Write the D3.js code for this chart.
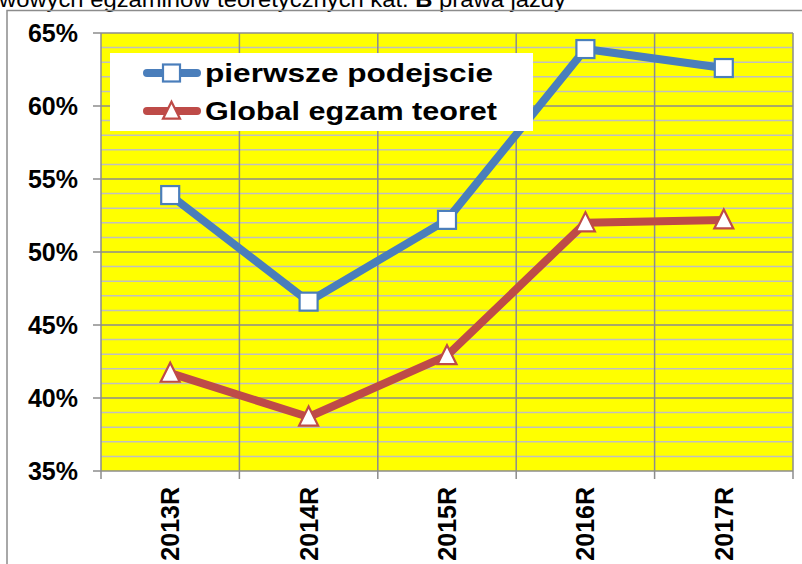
<!DOCTYPE html>
<html>
<head>
<meta charset="utf-8">
<script src="https://cdn.jsdelivr.net/npm/d3@7"></script>
<style>
  body { margin: 0; background: #fff; }
  svg { display: block; font-family: "Liberation Sans", Arial, sans-serif; }
</style>
</head>
<body>
<svg width="802" height="564"></svg>
<script>
// dane
const years = ['2013R', '2014R', '2015R', '2016R', '2017R'];
const pierwsze = [0.539, 0.466, 0.522, 0.639, 0.626];
const global = [0.417, 0.387, 0.429, 0.520, 0.522];
const yTicks = [0.35, 0.40, 0.45, 0.50, 0.55, 0.60, 0.65];
const seriesNames = ['pierwsze podejscie', 'Global egzam teoret'];

const svg = d3.select('svg');
const blue = '#4a7ebb';
const red = '#be4b48';

const x = d3.scaleBand().domain(years).range([101, 793]);
const y = d3.scaleLinear().domain([0.35, 0.65]).range([471, 33]);

// tytul (ucięty u gory)
const title = svg.append('text')
    .attr('x', -1)
    .attr('y', 7)
    .attr('font-size', 22)
    .attr('fill', '#000')
    .attr('textLength', 567)
    .attr('lengthAdjust', 'spacingAndGlyphs');
title.append('tspan').text('wowych egzaminów teoretycznych kat. ');
title.append('tspan').attr('font-weight', 'bold').text('B');
title.append('tspan').text(' prawa jazdy');

// ramka wykresu
svg.append('path')
    .attr('d', 'M7,564 V10.5 H802')
    .attr('fill', 'none')
    .attr('stroke', '#8c8c8c')
    .attr('stroke-width', 1.5);

// tlo
svg.append('rect')
    .attr('x', 101).attr('y', 33)
    .attr('width', 692).attr('height', 438)
    .attr('fill', '#ffff00');

// linie pomocnicze
const minor = d3.range(36, 65).filter(d => d % 5 !== 0).map(d => d / 100);
svg.append('g').selectAll('line')
    .data(minor)
    .enter()
    .append('line')
    .attr('x1', 101).attr('x2', 793)
    .attr('y1', d => y(d)).attr('y2', d => y(d))
    .attr('stroke', '#c0c0c0')
    .attr('stroke-width', 1.5);

svg.append('g').selectAll('line')
    .data(yTicks)
    .enter()
    .append('line')
    .attr('x1', 93).attr('x2', 793)
    .attr('y1', d => y(d)).attr('y2', d => y(d))
    .attr('stroke', '#8c8c8c')
    .attr('stroke-width', 1.5);

const bounds = years.map(d => x(d)).concat([x.range()[1]]);
svg.append('g').selectAll('line')
    .data(bounds)
    .enter()
    .append('line')
    .attr('x1', d => d).attr('x2', d => d)
    .attr('y1', 33).attr('y2', 479)
    .attr('stroke', '#8c8c8c')
    .attr('stroke-width', 1.5);

// etykiety osi Y
svg.append('g').selectAll('text')
    .data(yTicks)
    .enter()
    .append('text')
    .attr('x', 78)
    .attr('y', d => y(d) + 9)
    .attr('text-anchor', 'end')
    .attr('font-size', 25)
    .attr('font-weight', 'bold')
    .text(d => Math.round(d * 100) + '%');

// etykiety osi X
svg.append('g').selectAll('text')
    .data(years)
    .enter()
    .append('text')
    .attr('transform', d => `translate(${x(d) + x.bandwidth() / 2 + 9},487) rotate(-90)`)
    .attr('text-anchor', 'end')
    .attr('font-size', 25)
    .attr('font-weight', 'bold')
    .text(d => d);

const cx = d => x(d) + x.bandwidth() / 2;
const line = d3.line().x((d, i) => cx(years[i])).y(d => y(d));

const triPath = (px, py, s) => `M${px},${py - s * 0.55} L${px + s / 2},${py + s * 0.45} L${px - s / 2},${py + s * 0.45} Z`;

const drawSeries = (vals, color, marker) => {
    svg.append('path')
        .datum(vals)
        .attr('d', line)
        .attr('fill', 'none')
        .attr('stroke', color)
        .attr('stroke-width', 8)
        .attr('stroke-linejoin', 'round');
    vals.forEach((v, i) => {
        const px = cx(years[i]);
        const py = y(v);
        if (marker === 'square') {
            svg.append('rect')
                .attr('x', px - 9).attr('y', py - 9)
                .attr('width', 18).attr('height', 18)
                .attr('fill', '#fff')
                .attr('stroke', color)
                .attr('stroke-width', 2.2);
        } else {
            svg.append('path')
                .attr('d', triPath(px, py, 19))
                .attr('fill', '#fff')
                .attr('stroke', color)
                .attr('stroke-width', 2.2);
        }
    });
};

drawSeries(pierwsze, blue, 'square');
drawSeries(global, red, 'triangle');

// legenda
const legend = svg.append('g');
legend.append('rect')
    .attr('x', 110).attr('y', 53)
    .attr('width', 423).attr('height', 78)
    .attr('fill', '#fff');

const legendRows = [
    { name: seriesNames[0], color: blue, marker: 'square', y: 73 },
    { name: seriesNames[1], color: red, marker: 'triangle', y: 111 }
];
legendRows.forEach(r => {
    legend.append('line')
        .attr('x1', 147).attr('x2', 197)
        .attr('y1', r.y).attr('y2', r.y)
        .attr('stroke', r.color)
        .attr('stroke-width', 8)
        .attr('stroke-linecap', 'round');
    if (r.marker === 'square') {
        legend.append('rect')
            .attr('x', 163).attr('y', r.y - 8.5)
            .attr('width', 17).attr('height', 17)
            .attr('fill', '#fff')
            .attr('stroke', r.color)
            .attr('stroke-width', 2.2);
    } else {
        legend.append('path')
            .attr('d', triPath(171.5, r.y, 17))
            .attr('fill', '#fff')
            .attr('stroke', r.color)
            .attr('stroke-width', 2.2);
    }
    legend.append('text')
        .attr('x', 205)
        .attr('y', r.y + 9)
        .attr('font-size', 25)
        .attr('font-weight', 'bold')
        .attr('textLength', r.marker === 'square' ? 288 : 292)
        .attr('lengthAdjust', 'spacingAndGlyphs')
        .text(r.name);
});
</script>
</body>
</html>
